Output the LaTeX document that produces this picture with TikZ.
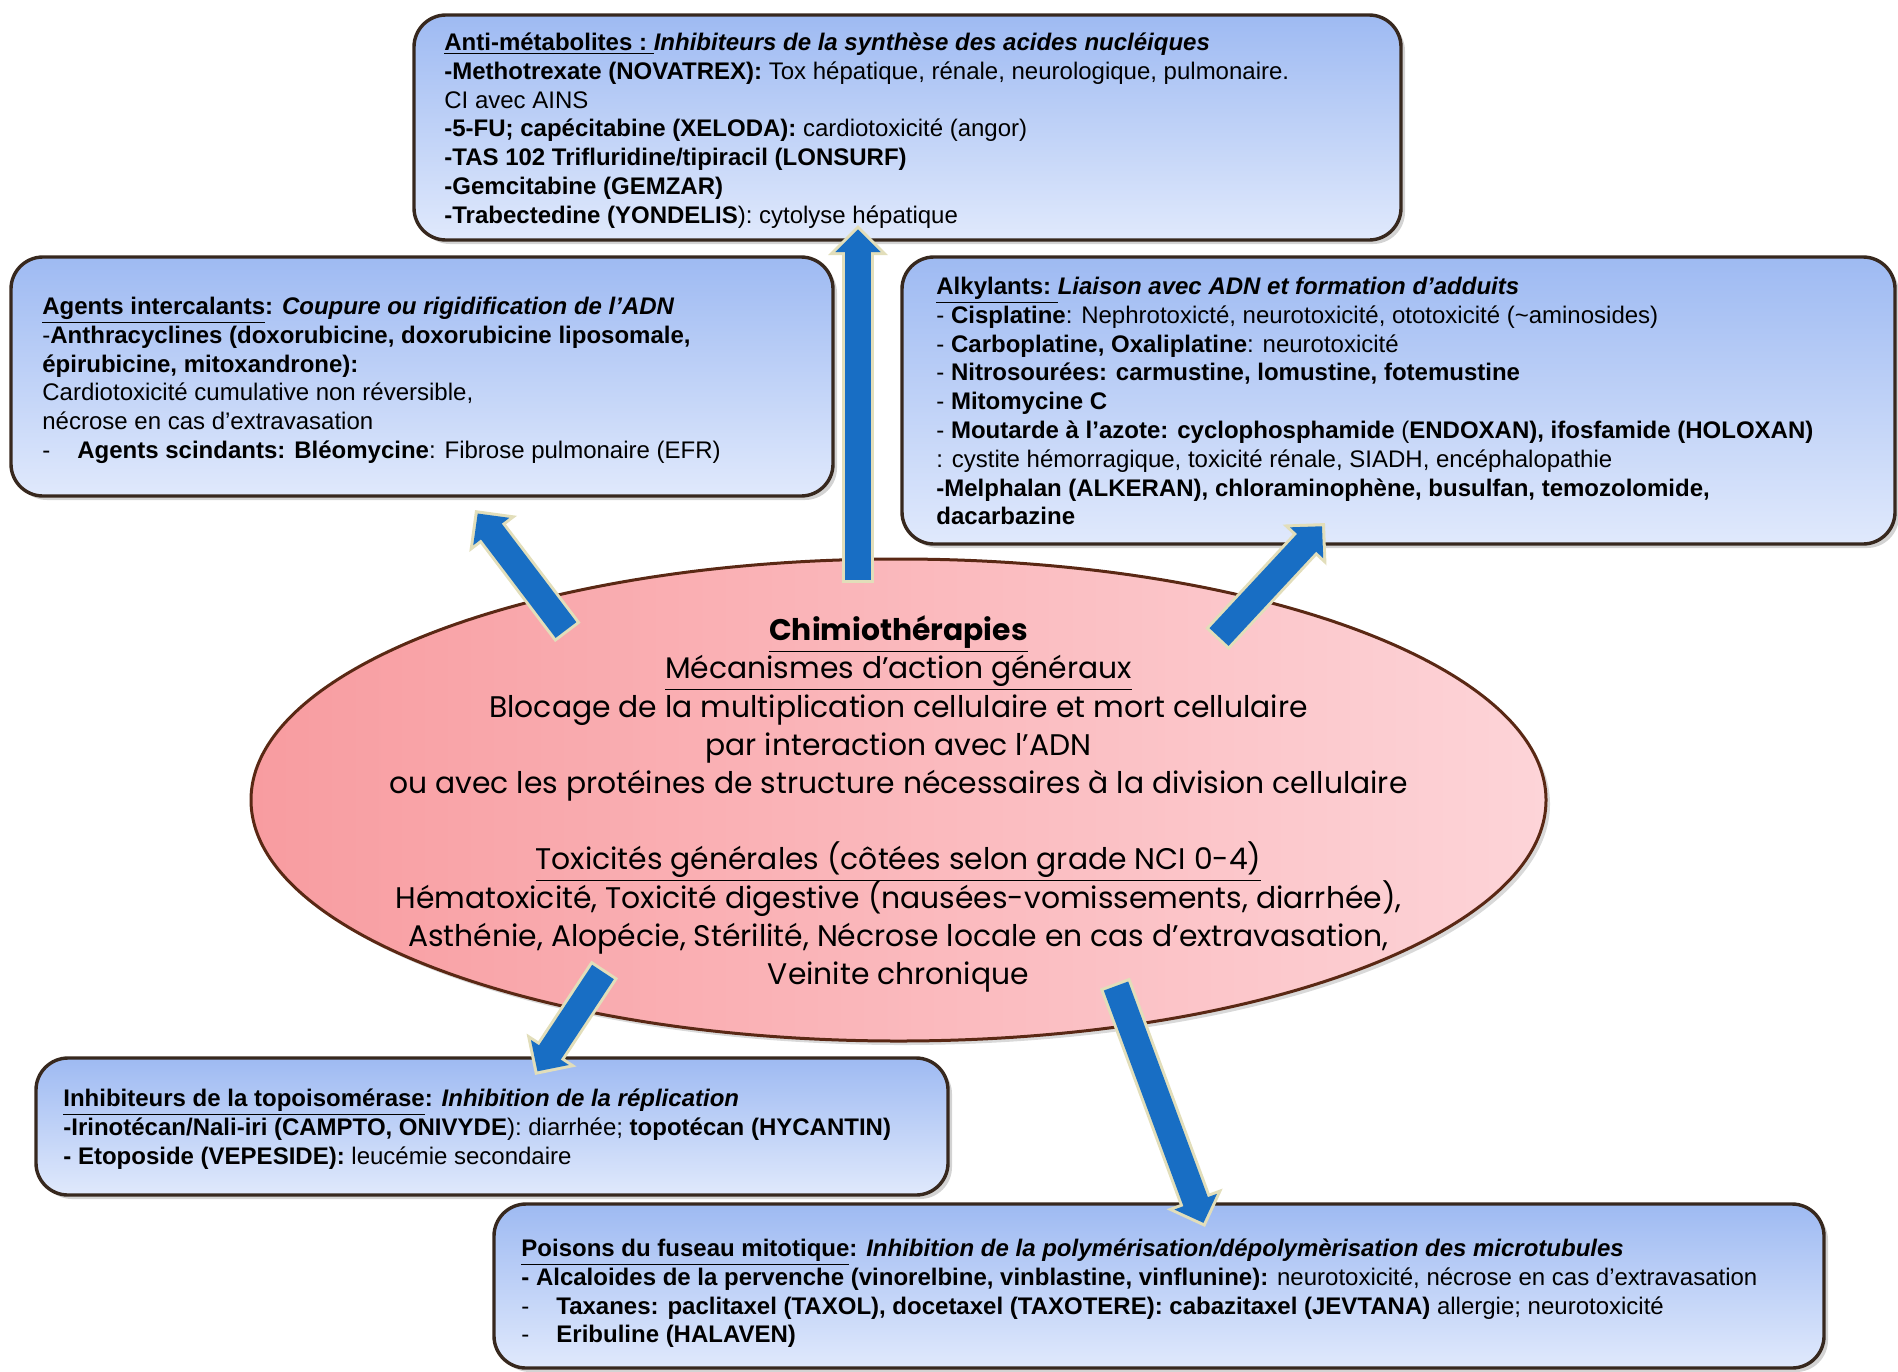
\documentclass[tikz,border=0pt]{standalone}
\usepackage{fontspec}
\setmainfont{Liberation Sans}
\newfontfamily\comicfont{Poppins}
\usetikzlibrary{arrows.meta,shadows,shapes.geometric}
\definecolor{boxtop}{RGB}{158,186,242}
\definecolor{boxbot}{RGB}{224,233,252}
\definecolor{boxline}{RGB}{55,40,30}
\definecolor{elleft}{RGB}{248,156,160}
\definecolor{elright}{RGB}{253,212,216}
\definecolor{ellline}{RGB}{90,40,20}
\definecolor{arrowblue}{RGB}{24,110,196}
\definecolor{arrowrim}{RGB}{226,222,186}
\newcommand\blockarr[2]{%
  \draw[arrout] (#1) -- (#2);
  \draw[arrin] (#1) -- (#2);}
\newcommand\dashtab{\makebox[17.5pt][l]{-}}
\newcommand\nolskip{\lineskiplimit-20pt\relax}
\begin{document}
\begin{tikzpicture}[x=0.5pt,y=-0.5pt,
  box/.style={draw=boxline, line width=1.7pt, rounded corners=16pt,
    top color=boxtop, bottom color=boxbot,
    drop shadow={opacity=0.35, shadow xshift=2pt, shadow yshift=-2pt}},
  txt/.style={anchor=north west, inner sep=0pt, align=left,
    font=\fontsize{12}{14.4}\selectfont\nolskip},
  ell/.style={ellipse, draw=ellline, line width=1.5pt, inner sep=0pt,
    minimum width=647.5pt, minimum height=241pt,
    left color=elleft, right color=elright,
    drop shadow={opacity=0.3, shadow xshift=2pt, shadow yshift=-2pt}},
  elltxt/.style={inner sep=0pt, align=center,
    font=\comicfont\fontsize{14.9}{19.1}\selectfont\nolskip},
  arrout/.style={draw=arrowrim, line width=16pt,
    -{Triangle[width=29pt,length=15pt]}, shorten <=-1.5pt},
  arrin/.style={draw=arrowblue, line width=13pt,
    -{Triangle[width=22pt,length=11.3pt]}, shorten >=2.2pt}
]
\useasboundingbox (0,0) rectangle (1898,1371);

% boxes
\path[box] (414,15) rectangle (1401,240);
\path[box] (11,257) rectangle (833,496);
\path[box] (902,257) rectangle (1895,544);
\path[box] (36,1058) rectangle (948,1195);
\path[box] (494,1204) rectangle (1824,1368);

% texts of boxes
\node[txt] (antimet) at (444,30) {\strut\underline{\textbf{Anti-métabolites :\ }}\textbf{\textit{Inhibiteurs de la synthèse des acides nucléiques}}\\
\textbf{-Methotrexate (NOVATREX):} Tox hépatique, rénale, neurologique, pulmonaire.\\
CI avec AINS\\
\textbf{-5-FU; capécitabine (XELODA):} cardiotoxicité (angor)\\
\textbf{-TAS 102 Trifluridine/tipiracil (LONSURF)}\\
\textbf{-Gemcitabine (GEMZAR)}\\
\textbf{-Trabectedine (YONDELIS}): cytolyse hépatique};

\node[txt] (interc) at (42,294) {\strut\underline{\textbf{Agents intercalants}}\textbf{: \textit{Coupure ou rigidification de l’ADN}}\\
-\textbf{Anthracyclines (doxorubicine, doxorubicine liposomale,}\\
\textbf{épirubicine, mitoxandrone):}\\
Cardiotoxicité cumulative non réversible,\\
nécrose en cas d’extravasation\\
\dashtab\textbf{Agents scindants: Bléomycine}: Fibrose pulmonaire (EFR)};

\node[txt] (alkyl) at (936,274) {\strut\underline{\textbf{Alkylants:\ }}\textbf{\textit{Liaison avec ADN et formation d’adduits}}\\
- \textbf{Cisplatine}: Nephrotoxicté, neurotoxicité, ototoxicité (\textasciitilde aminosides)\\
- \textbf{Carboplatine, Oxaliplatine}: neurotoxicité\\
- \textbf{Nitrosourées: carmustine, lomustine, fotemustine}\\
- \textbf{Mitomycine C}\\
- \textbf{Moutarde à l’azote: cyclophosphamide} (\textbf{ENDOXAN), ifosfamide (HOLOXAN)}\\
: cystite hémorragique, toxicité rénale, SIADH, encéphalopathie\\
\textbf{-Melphalan (ALKERAN), chloraminophène, busulfan, temozolomide,}\\
\textbf{dacarbazine}};

\node[txt] (topo) at (63,1086) {\strut\underline{\textbf{Inhibiteurs de la topoisomérase}}\textbf{: \textit{Inhibition de la réplication}}\\
\textbf{-Irinotécan/Nali-iri (CAMPTO, ONIVYDE}): diarrhée; \textbf{topotécan (HYCANTIN)}\\
\textbf{- Etoposide (VEPESIDE):} leucémie secondaire};

\node[txt] (fuseau) at (521,1236) {\strut\underline{\textbf{Poisons du fuseau mitotique}}\textbf{: \textit{Inhibition de la polymérisation/dépolymèrisation des microtubules}}\\
\textbf{- Alcaloides de la pervenche (vinorelbine, vinblastine, vinflunine):} neurotoxicité, nécrose en cas d’extravasation\\
\dashtab\textbf{Taxanes: paclitaxel (TAXOL), docetaxel (TAXOTERE): cabazitaxel (JEVTANA)} allergie; neurotoxicité\\
\dashtab\textbf{Eribuline (HALAVEN)}};

% central ellipse
\node[ell] (core) at (898.5,800) {};
\node[elltxt] (coretxt) at (898.5,803) {\strut\underline{\textbf{Chimiothérapies}}\\
\underline{Mécanismes d’action généraux}\\
Blocage de la multiplication cellulaire et mort cellulaire\\
par interaction avec l’ADN\\
ou avec les protéines de structure nécessaires à la division cellulaire\\
\strut\\
\underline{Toxicités générales (côtées selon grade NCI 0-4)}\\
Hématoxicité, Toxicité digestive (nausées-vomissements, diarrhée),\\
Asthénie, Alopécie, Stérilité, Nécrose locale en cas d’extravasation,\\
Veinite chronique};

% arrow end points
\coordinate (upS) at (858,580);
\coordinate (upE) at (858,225);
\coordinate (ulS) at (566,630);
\coordinate (ulE) at (475,510);
\coordinate (urS) at (1219,637);
\coordinate (urE) at (1325,523);
\coordinate (dlS) at (603,972);
\coordinate (dlE) at (535,1075);
\coordinate (drS) at (1116,986);
\coordinate (drE) at (1205,1227);

\blockarr{upS}{upE}
\blockarr{ulS}{ulE}
\blockarr{urS}{urE}
\blockarr{dlS}{dlE}
\blockarr{drS}{drE}
\end{tikzpicture}
\end{document}
